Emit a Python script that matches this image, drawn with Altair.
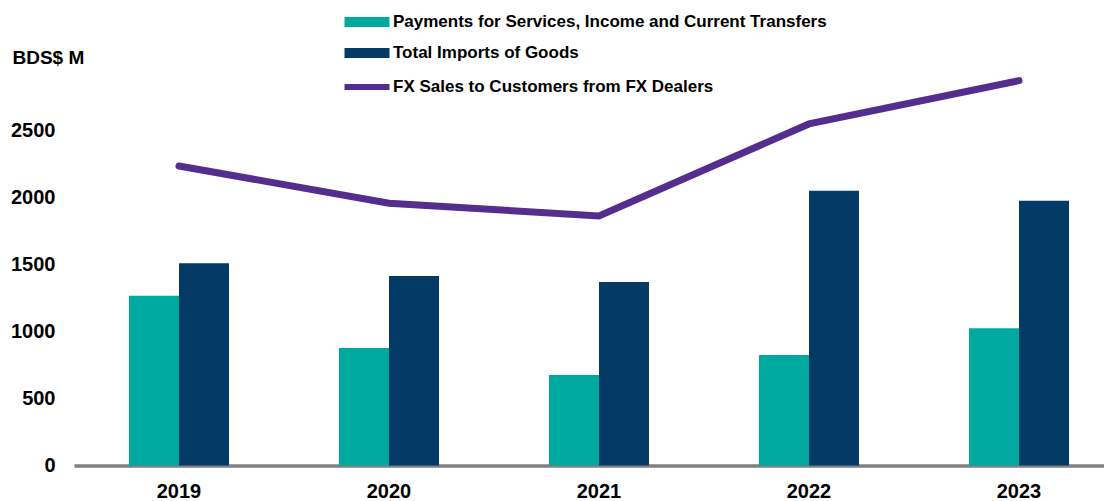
import altair as alt
import pandas as pd

years = ["2019", "2020", "2021", "2022", "2023"]
payments = [1267, 877, 675, 825, 1024]
imports_goods = [1509, 1414, 1369, 2051, 1976]
fx_sales = [2235, 1957, 1862, 2549, 2872]
series_names = ["Payments for Services, Income and Current Transfers", "Total Imports of Goods"]
line_name = "FX Sales to Customers from FX Dealers"
y_ticks = [0, 500, 1000, 1500, 2000, 2500]

TEAL = "#00A99F"
NAVY = "#033A66"
PURPLE = "#552D8E"
FONT = "Liberation Sans"

bars_df = pd.DataFrame({
    "year": years * 2,
    "series": [series_names[0]] * len(years) + [series_names[1]] * len(years),
    "value": payments + imports_goods,
})
line_df = pd.DataFrame({"year": years, "series": [line_name] * len(years), "value": fx_sales})

x_enc = alt.X(
    "year:N", sort=years,
    scale=alt.Scale(paddingInner=0.5238, paddingOuter=0.2143, align=0.611),
    axis=alt.Axis(title=None, labelAngle=0, labelFontSize=20, labelFontWeight="bold",
                  labelColor="black", labelFont=FONT, labelPadding=16, ticks=False, tickSize=0,
                  domainColor="#808080", domainWidth=3.5),
)
y_enc = alt.Y(
    "value:Q",
    scale=alt.Scale(domain=[0, 3000], nice=False, zero=True),
    axis=alt.Axis(values=y_ticks, format="d", title="BDS$ M", titleAngle=0, titleX=-62, titleY=-6,
                  titleAlign="left", titleBaseline="middle", titleFontSize=19,
                  titleFontWeight="bold", titleFont=FONT, titleColor="black",
                  labelFontSize=20, labelFontWeight="bold", labelFont=FONT, labelColor="black",
                  labelPadding=19, domain=False, ticks=False, tickSize=0, grid=False),
)

RECT_PATH = "M-4.5,-1L4.5,-1L4.5,1L-4.5,1Z"
LINE_PATH = "M-4.5,0L4.5,0"

bars = alt.Chart(bars_df).mark_bar().encode(
    x=x_enc,
    y=y_enc,
    xOffset=alt.XOffset("series:N", sort=series_names,
                        scale=alt.Scale(paddingInner=0, paddingOuter=0)),
    fill=alt.Fill(
        "series:N", sort=series_names,
        scale=alt.Scale(domain=series_names, range=[TEAL, NAVY]),
        legend=alt.Legend(title=None, orient="none", legendX=284.5, legendY=-50,
                          symbolType=RECT_PATH, symbolSize=100, symbolStrokeWidth=0,
                          labelFontSize=17, labelFont=FONT, labelFontWeight="bold",
                          labelColor="black", labelOffset=17.5, rowPadding=13, padding=0,
                          labelLimit=800),
    ),
)

line = alt.Chart(line_df).mark_line(strokeWidth=7, strokeCap="round").encode(
    x=x_enc,
    y=y_enc,
    stroke=alt.Stroke(
        "series:N",
        scale=alt.Scale(domain=[line_name], range=[PURPLE]),
        legend=alt.Legend(title=None, orient="none", legendX=284.5, legendY=15,
                          symbolType=LINE_PATH, symbolSize=100, symbolStrokeWidth=6,
                          labelFontSize=17, labelFont=FONT, labelFontWeight="bold",
                          labelColor="black", labelOffset=17.5, padding=0, labelLimit=800),
    ),
)

chart = alt.layer(bars, line).resolve_scale(fill="independent", stroke="independent").properties(
    width=1030,
    height=402,
    padding={"left": 66, "top": 55.5, "right": 0, "bottom": 35},
    autosize=alt.AutoSizeParams(type="none"),
    background="white",
).configure_view(stroke=None)

chart.save("out.html", embed_options={"renderer": "svg", "actions": False})
